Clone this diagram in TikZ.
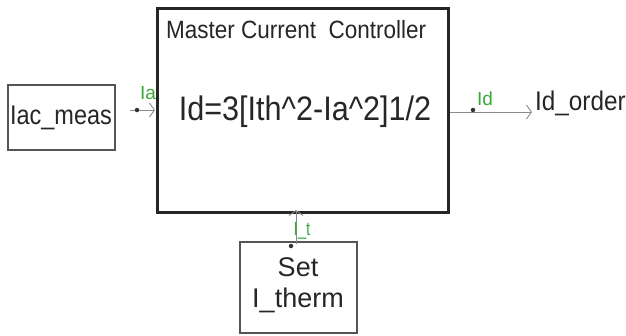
\documentclass[tikz,border=0pt]{standalone}
\usepackage{fontspec}
\setmainfont{Liberation Sans}
\usetikzlibrary{arrows.meta}
\definecolor{lblgreen}{HTML}{3AA83A}
\definecolor{boxgray}{HTML}{555555}
\definecolor{wiregray}{HTML}{8A8A8A}
\begin{document}
\begin{tikzpicture}[x=1pt,y=-1pt,
  blk/.style={draw=boxgray,line width=1.4pt},
  mainblk/.style={draw=black!85,line width=3pt},
  wire/.style={draw=wiregray,line width=0.9pt,-{Straight Barb[length=5pt,width=14pt,line width=0.9pt]}},
  lbl/.style={text=lblgreen,font=\fontsize{19}{19}\selectfont,inner sep=0pt},
  txt/.style={inner sep=0pt,text=black!85},
  pin/.style={fill=black!80,circle,inner sep=0pt,minimum size=4.5pt}]
\useasboundingbox (0,0) rectangle (626,335);
% blocks
\draw[mainblk] (157,8) rectangle (448,212);
\coordinate (mainW) at (157,110);
\coordinate (mainE) at (448,112);
\coordinate (mainS) at (296,212);
\node[txt,anchor=west] (title) at (166,30) {\fontsize{25}{25}\selectfont\scalebox{0.9}[1]{Master Current\ \ Controller}};
\node[txt] (eq) at (305,112) {\fontsize{34}{34}\selectfont\scalebox{0.9}[1]{Id=3[Ith\^{}2-Ia\^{}2]1/2}};
\draw[blk] (8,85) rectangle (115,150);
\node[txt] (iac) at (61,118) {\fontsize{27}{27}\selectfont\scalebox{0.87}[1]{Iac\_meas}};
\draw[blk] (240,242) rectangle (357,333);
\node[txt] (set) at (298,267) {\fontsize{27}{27}\selectfont Set};
\node[txt] (itherm) at (298,300) {\fontsize{27}{27}\selectfont I\_therm};
\node[txt,anchor=west] (idorder) at (535,103) {\fontsize{27}{27}\selectfont\scalebox{0.9}[1]{Id\_order}};
% connectors
\coordinate (inStart) at (130,110);
\draw[wire] (inStart) -- ([xshift=-2pt]mainW);
\node[pin] (p1) at (137,110) {};
\node[lbl] (la) at (148,93) {Ia};
\coordinate (outEnd) at (532,112);
\draw[wire] ([xshift=2pt]mainE) -- (outEnd);
\node[pin] (p2) at (473,110) {};
\node[lbl] (ld) at (485,99) {Id};
\coordinate (btStart) at (296,244);
\draw[wire] (btStart) -- ([yshift=2pt]mainS);
\node[pin] (p3) at (291,246) {};
\node[lbl] (lt) at (302,231) {\scalebox{0.8}[1]{I\_t}};
\end{tikzpicture}
\end{document}
